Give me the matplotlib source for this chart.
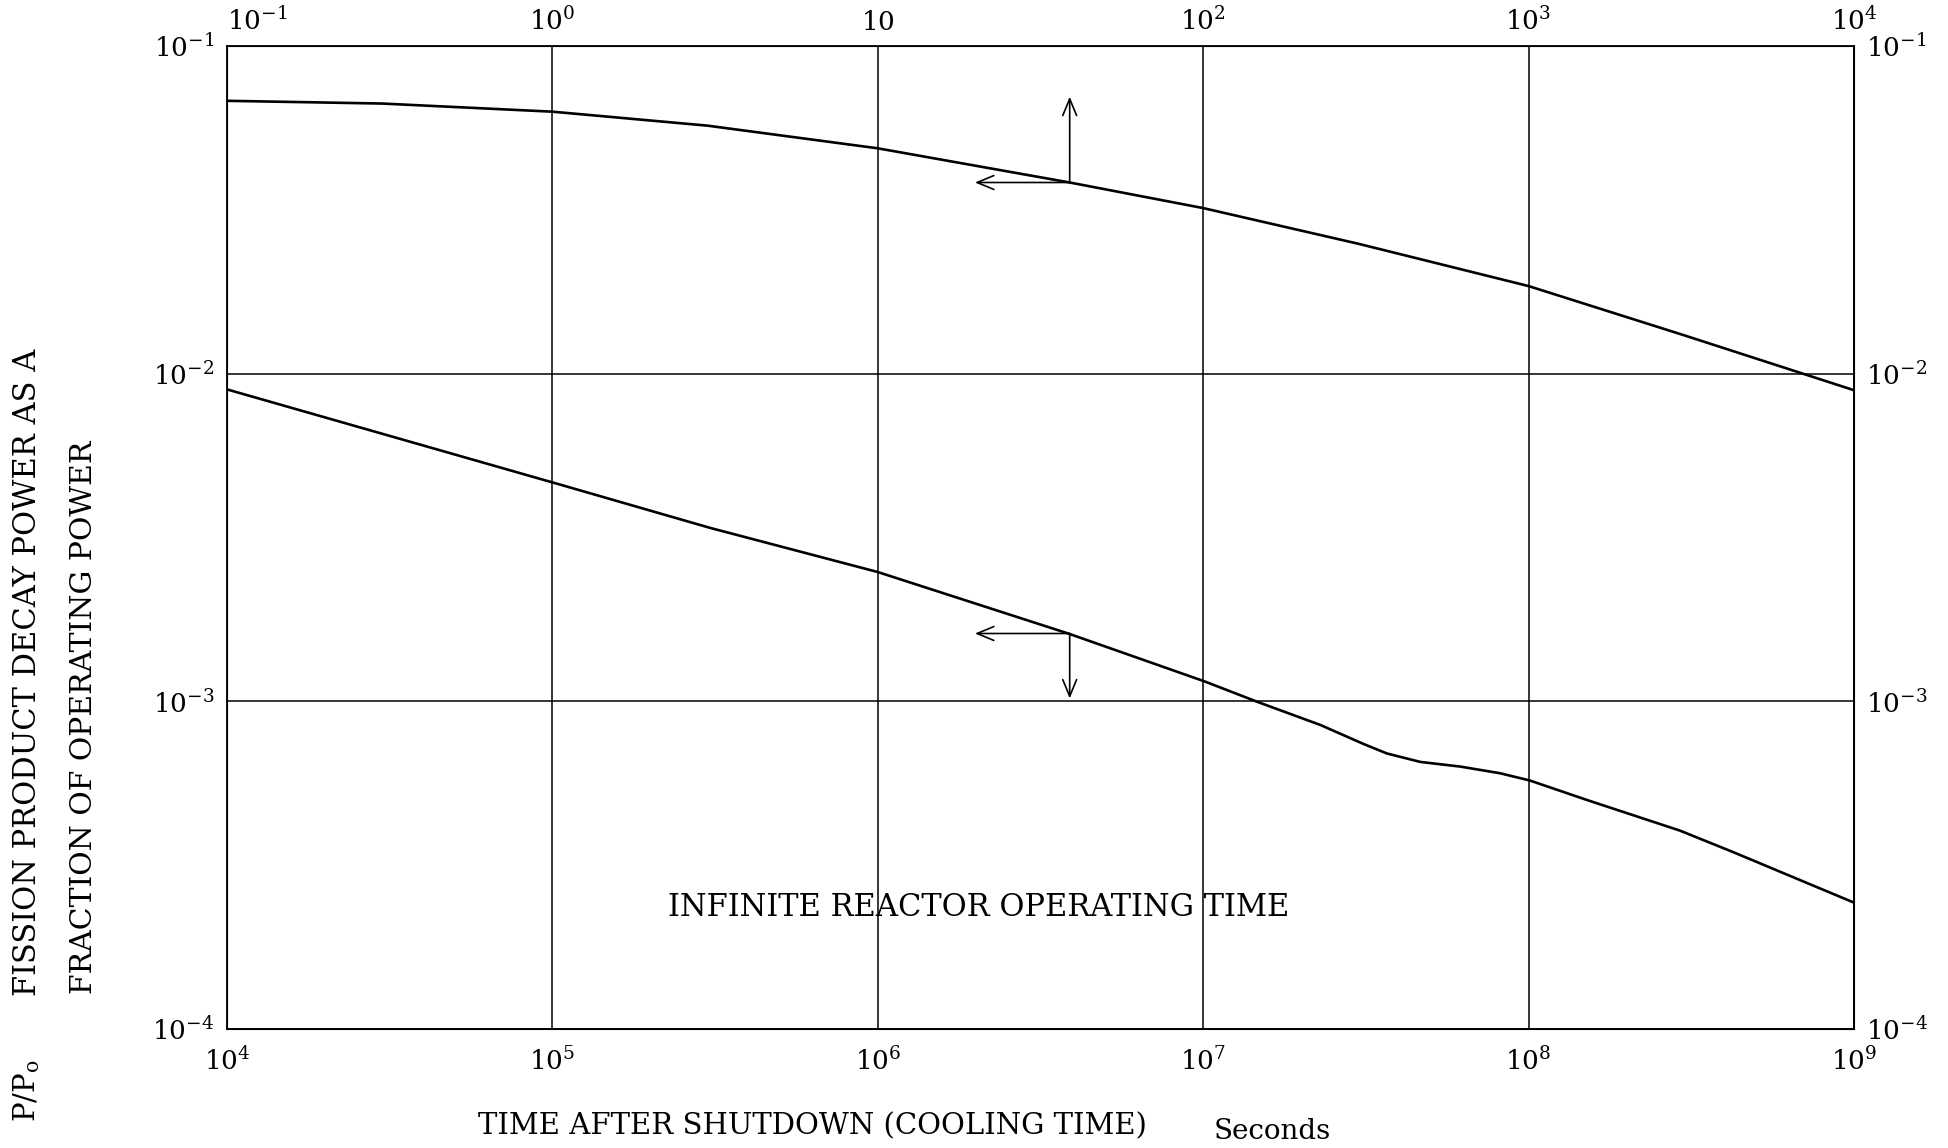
import matplotlib
matplotlib.use("Agg")
import matplotlib.pyplot as plt
from matplotlib.ticker import NullLocator

plt.rcParams['mathtext.fontset'] = 'dejavuserif'
plt.rcParams['font.family'] = ['DejaVu Serif']

# short cooling times (top axis, seconds)
t_short = [0.1, 0.3, 1, 3, 10, 38.9, 100, 300, 1000, 3000, 1e4]
p_short = [0.068, 0.0667, 0.063, 0.0571, 0.0487, 0.0383, 0.032, 0.0249,
           0.0185, 0.0131, 0.0089]

# long cooling times (bottom axis, seconds)
t_long = [1e4, 1.02e5, 3.06e5, 1e6, 3.85e6, 1.01e7, 1.48e7, 2.29e7, 3.11e7,
          3.67e7, 4.65e7, 6.17e7, 8.18e7, 1.01e8, 1.51e8, 2.92e8, 4.27e8, 1e9]
p_long = [0.00895, 0.00463, 0.00338, 0.00248, 0.00161, 0.00115, 0.000993,
          0.000847, 0.000741, 0.000693, 0.000653, 0.000632, 0.000603,
          0.000573, 0.0005, 0.000403, 0.000346, 0.000243]

bottom_ticks = [1e4, 1e5, 1e6, 1e7, 1e8, 1e9]
bottom_labels = [r'$10^{4}$', r'$10^{5}$', r'$10^{6}$', r'$10^{7}$',
                 r'$10^{8}$', r'$10^{9}$']
top_ticks = [0.1, 1, 10, 100, 1000, 1e4]
top_labels = [r'$10^{-1}$', r'$10^{0}$', r'$10$', r'$10^{2}$',
              r'$10^{3}$', r'$10^{4}$']
y_ticks = [1e-4, 1e-3, 1e-2, 1e-1]
y_labels = [r'$10^{-4}$', r'$10^{-3}$', r'$10^{-2}$', r'$10^{-1}$']

fig = plt.figure(figsize=(19.48, 11.48), dpi=100)
ax = fig.add_axes([0.1165, 0.1037, 0.8352, 0.8563])
ax.set_xscale('log')
ax.set_yscale('log')
ax.set_xlim(1e4, 1e9)
ax.set_ylim(1e-4, 1e-1)
ax.plot(t_long, p_long, color='black', lw=1.9)

ax.set_xticks(bottom_ticks)
ax.set_xticklabels(bottom_labels)
ax.set_yticks(y_ticks)
ax.set_yticklabels(y_labels)
ax.xaxis.set_minor_locator(NullLocator())
ax.yaxis.set_minor_locator(NullLocator())
ax.tick_params(axis='both', length=0, labelsize=19)
ax.tick_params(axis='x', pad=13)
ax.tick_params(axis='y', pad=9, labelright=True)
ax.grid(True, which='major', color='black', lw=1.1)
for s in ax.spines.values():
    s.set_linewidth(1.3)

top = ax.twiny()
top.set_xscale('log')
top.set_xlim(0.1, 1e4)
top.plot(t_short, p_short, color='black', lw=1.9)
top.set_xticks(top_ticks)
top.set_xticklabels(top_labels)
top.xaxis.set_minor_locator(NullLocator())
top.tick_params(axis='x', length=0, labelsize=19, pad=8)
top.get_xticklabels()[0].set_ha('left')

arrow = dict(arrowstyle='->,head_length=0.6,head_width=0.25',
             color='black', lw=1.2, shrinkA=0, shrinkB=0, mutation_scale=20)
# upper curve -> top axis / left scale
top.annotate('', xy=(38.9, 0.070), xytext=(38.9, 0.0383), arrowprops=arrow)
top.annotate('', xy=(19.9, 0.0383), xytext=(38.9, 0.0383), arrowprops=arrow)
# lower curve -> bottom axis / left scale
ax.annotate('', xy=(1.99e6, 0.00161), xytext=(3.89e6, 0.00161), arrowprops=arrow)
ax.annotate('', xy=(3.89e6, 0.00102), xytext=(3.89e6, 0.00161), arrowprops=arrow)

ax.text(2.04e6, 2.35e-4, 'INFINITE REACTOR OPERATING TIME',
        fontsize=22, ha='center', va='center')

fig.text(0.0139, 0.0226, r'P/P$_{\mathrm{o}}$',
         fontsize=21, rotation=90, ha='center', va='bottom')
fig.text(0.0139, 0.1324, 'FISSION PRODUCT DECAY POWER AS A',
         fontsize=22, rotation=90, ha='center', va='bottom')
fig.text(0.0431, 0.134, 'FRACTION OF OPERATING POWER',
         fontsize=21.5, rotation=90, ha='center', va='bottom')
fig.text(0.2454, 0.019, 'TIME AFTER SHUTDOWN (COOLING TIME)',
         fontsize=21, ha='left', va='center')
fig.text(0.6232, 0.014, 'Seconds', fontsize=20, ha='left', va='center')

fig.savefig('out.png', dpi=100, facecolor='white')
